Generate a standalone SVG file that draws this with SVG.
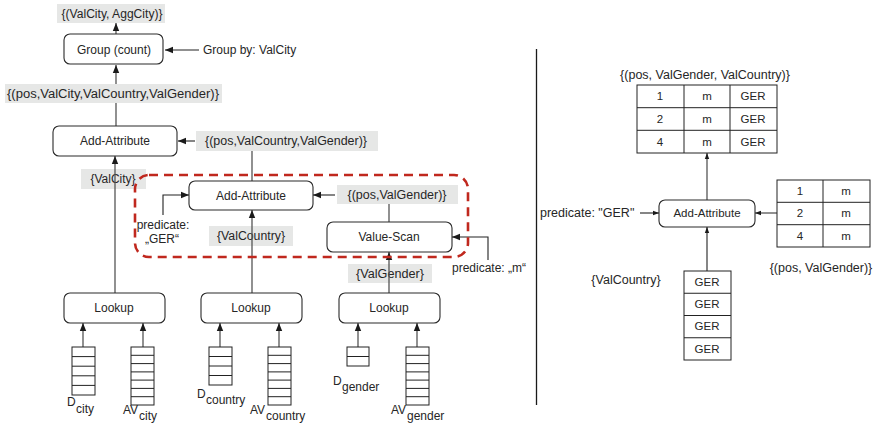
<svg xmlns="http://www.w3.org/2000/svg" width="878" height="425" viewBox="0 0 878 425">
  <defs>
    <marker id="ah" markerWidth="8" markerHeight="8" refX="8" refY="4" orient="auto" markerUnits="userSpaceOnUse">
      <path d="M0,0.8 L8,4 L0,7.2 Z" fill="#1a1a1a"/>
    </marker>
    <marker id="ahs" markerWidth="6" markerHeight="6" refX="6" refY="3" orient="auto" markerUnits="userSpaceOnUse">
      <path d="M0,0.8 L6,3 L0,5.2 Z" fill="#1a1a1a"/>
    </marker>
    <style>
      text { font-family: "Liberation Sans", Arial, sans-serif; fill: #262626; }
      .t { font-size: 12px; text-anchor: middle; }
      .tl { font-size: 12px; }
      .s { font-size: 12.5px; text-anchor: middle; }
      .sl { font-size: 12.5px; }
      .cell { font-size: 11.5px; text-anchor: middle; }
      .node { fill: #fff; stroke: #2a2a2a; stroke-width: 1.1; }
      .lbl { fill: #e6e7e6; }
      .edge { fill: none; stroke: #555; stroke-width: 1.3; }
      .edgek { fill: none; stroke: #222; stroke-width: 1.1; }
      .arr { fill: #fff; stroke: #222; stroke-width: 1; }
      .rows { fill: none; stroke: #222; stroke-width: 1; }
      .tbl { fill: #fff; stroke: #222; stroke-width: 1; }
      .an { font-size: 12px; }
      .ae { font-size: 12px; text-anchor: end; }
    </style>
  </defs>

  <!-- edge labels (shaded) -->
  <g id="labels">
    <rect class="lbl" x="57" y="4" width="108" height="19"/>
    <text class="t" x="112" y="18" textLength="101" lengthAdjust="spacingAndGlyphs">{(ValCity, AggCity)}</text>
    <rect class="lbl" x="5" y="84" width="217" height="19"/>
    <text class="t" x="113" y="98" textLength="212" lengthAdjust="spacingAndGlyphs">{(pos,ValCity,ValCountry,ValGender)}</text>
    <rect class="lbl" x="196" y="131" width="182" height="20"/>
    <text class="t" x="286" y="145" textLength="162" lengthAdjust="spacingAndGlyphs">{(pos,ValCountry,ValGender)}</text>
    <rect class="lbl" x="81" y="169" width="65" height="20"/>
    <text class="t" x="113" y="183">{ValCity}</text>
    <rect class="lbl" x="337" y="185" width="121" height="19"/>
    <text class="t" x="397" y="199" textLength="99" lengthAdjust="spacingAndGlyphs">{(pos,ValGender)}</text>
    <rect class="lbl" x="209" y="226" width="84" height="20"/>
    <text class="t" x="251" y="240" textLength="68" lengthAdjust="spacingAndGlyphs">{ValCountry}</text>
    <rect class="lbl" x="348" y="264" width="84" height="19"/>
    <text class="t" x="390" y="278" textLength="68" lengthAdjust="spacingAndGlyphs">{ValGender}</text>
  </g>

  <!-- connectors -->
  <g id="connectors">
    <line class="edge" x1="116" y1="35" x2="116" y2="23" marker-end="url(#ah)"/>
    <line class="edgek" x1="199" y1="50" x2="165" y2="50" marker-end="url(#ah)"/>
    <line class="edge" x1="116" y1="84" x2="116" y2="65" marker-end="url(#ah)"/>
    <line class="edge" x1="116" y1="103" x2="116" y2="126"/>
    <line class="edgek" x1="195" y1="141" x2="178" y2="141" marker-end="url(#ah)"/>
    <line class="edge" x1="252" y1="151" x2="252" y2="181"/>
    <line class="edge" x1="115" y1="293" x2="115" y2="156" marker-end="url(#ah)"/>
    <polyline class="edgek" points="163,215 163,195 189,195" marker-end="url(#ah)"/>
    <line class="edgek" x1="335" y1="195" x2="313" y2="195" marker-end="url(#ah)"/>
    <line class="edge" x1="389" y1="204" x2="389" y2="222"/>
    <polyline class="edgek" points="488,260 488,237 452,237" marker-end="url(#ah)"/>
    <line class="edge" x1="252" y1="293" x2="252" y2="210" marker-end="url(#ah)"/>
    <line class="edge" x1="389" y1="293" x2="389" y2="252" marker-end="url(#ah)"/>
    <!-- array inputs -->
    <line class="edge" x1="83" y1="347" x2="83" y2="323" marker-end="url(#ah)"/>
    <line class="edge" x1="143" y1="347" x2="143" y2="323" marker-end="url(#ah)"/>
    <line class="edge" x1="220" y1="347" x2="220" y2="323" marker-end="url(#ah)"/>
    <line class="edge" x1="279" y1="347" x2="279" y2="323" marker-end="url(#ah)"/>
    <line class="edge" x1="358" y1="347" x2="358" y2="323" marker-end="url(#ah)"/>
    <line class="edge" x1="417" y1="347" x2="417" y2="323" marker-end="url(#ah)"/>
    <!-- example on the right -->
    <line class="edge" x1="707" y1="200" x2="707" y2="153" marker-end="url(#ahs)"/>
    <line class="edgek" x1="640" y1="213" x2="659" y2="213" marker-end="url(#ahs)"/>
    <line class="edge" x1="777" y1="213" x2="755" y2="213" marker-end="url(#ahs)"/>
    <line class="edgek" x1="707" y1="271" x2="707" y2="227" marker-end="url(#ahs)"/>
  </g>

  <!-- highlighted subplan -->
  <rect id="subplan" x="135" y="175" width="333" height="82" rx="14" fill="none" stroke="#c0281e" stroke-width="2.6" stroke-dasharray="9,6"/>

  <!-- operators -->
  <g id="group-count">
    <rect class="node" x="64" y="34" width="99" height="30" rx="6"/>
    <text class="t" x="114" y="54">Group (count)</text>
  </g>
  <text id="group-by" class="tl" x="203" y="54">Group by: ValCity</text>
  <g id="add-attr-1">
    <rect class="node" x="53" y="126" width="124" height="30" rx="6"/>
    <text class="t" x="115" y="145">Add-Attribute</text>
  </g>
  <g id="add-attr-2">
    <rect class="node" x="189" y="181" width="124" height="29" rx="6"/>
    <text class="t" x="251" y="200">Add-Attribute</text>
  </g>
  <g id="pred-ger">
    <text class="t" x="163" y="229">predicate:</text>
    <text class="t" x="162" y="243">„GER“</text>
  </g>
  <g id="value-scan">
    <rect class="node" x="327" y="222" width="125" height="30" rx="6"/>
    <text class="t" x="389" y="241">Value-Scan</text>
  </g>
  <text id="pred-m" class="tl" x="452" y="272">predicate: „m“</text>
  <g id="lookup-city">
    <rect class="node" x="64" y="293" width="101" height="30" rx="6"/>
    <text class="t" x="114" y="312">Lookup</text>
  </g>
  <g id="lookup-country">
    <rect class="node" x="201" y="293" width="101" height="30" rx="6"/>
    <text class="t" x="251" y="312">Lookup</text>
  </g>
  <g id="lookup-gender">
    <rect class="node" x="339" y="293" width="101" height="30" rx="6"/>
    <text class="t" x="389" y="312">Lookup</text>
  </g>

  <!-- column arrays -->
  <g id="d-city">
    <rect class="arr" x="72" y="347" width="23" height="48"/>
    <path class="rows" d="M72,356.6H95M72,366.2H95M72,375.8H95M72,385.4H95"/>
    <text class="an" x="67" y="406">D</text>
    <text class="an" x="76" y="413">city</text>
  </g>
  <g id="av-city">
    <rect class="arr" x="131" y="347" width="23" height="58"/>
    <path class="rows" d="M131,355.3H154M131,363.6H154M131,371.9H154M131,380.1H154M131,388.4H154M131,396.7H154"/>
    <text class="ae" x="138" y="414">AV</text>
    <text class="an" x="139" y="420">city</text>
  </g>
  <g id="d-country">
    <rect class="arr" x="209" y="347" width="23" height="38"/>
    <path class="rows" d="M209,356.5H232M209,366H232M209,375.5H232"/>
    <text class="an" x="197" y="398">D</text>
    <text class="an" x="206" y="404">country</text>
  </g>
  <g id="av-country">
    <rect class="arr" x="268" y="347" width="23" height="58"/>
    <path class="rows" d="M268,355.3H291M268,363.6H291M268,371.9H291M268,380.1H291M268,388.4H291M268,396.7H291"/>
    <text class="ae" x="265" y="414">AV</text>
    <text class="an" x="266" y="420">country</text>
  </g>
  <g id="d-gender">
    <rect class="arr" x="347" y="347" width="22" height="19"/>
    <path class="rows" d="M347,356.5H369"/>
    <text class="an" x="333" y="385">D</text>
    <text class="an" x="342" y="391">gender</text>
  </g>
  <g id="av-gender">
    <rect class="arr" x="406" y="347" width="23" height="58"/>
    <path class="rows" d="M406,355.3H429M406,363.6H429M406,371.9H429M406,380.1H429M406,388.4H429M406,396.7H429"/>
    <text class="ae" x="406" y="414">AV</text>
    <text class="an" x="407" y="420">gender</text>
  </g>

  <!-- divider -->
  <line x1="536.5" y1="49" x2="536.5" y2="405" stroke="#1a1a1a" stroke-width="1.3"/>

  <!-- worked example -->
  <g id="result-table">
    <text class="s" x="705" y="79">{(pos, ValGender, ValCountry)}</text>
    <rect class="tbl" x="637" y="85" width="140" height="68"/>
    <path d="M684,85V153M730,85V153M637,107.7H777M637,130.3H777" stroke="#222" stroke-width="1" fill="none"/>
    <text class="cell" x="660" y="100">1</text>
    <text class="cell" x="707" y="100">m</text>
    <text class="cell" x="753" y="100">GER</text>
    <text class="cell" x="660" y="123">2</text>
    <text class="cell" x="707" y="123">m</text>
    <text class="cell" x="753" y="123">GER</text>
    <text class="cell" x="660" y="146">4</text>
    <text class="cell" x="707" y="146">m</text>
    <text class="cell" x="753" y="146">GER</text>
  </g>
  <g id="add-attr-example">
    <rect class="node" x="659" y="200" width="96" height="27" rx="6"/>
    <text class="cell" x="707" y="217">Add-Attribute</text>
  </g>
  <text id="pred-ger-example" class="sl" x="540" y="217">predicate: "GER"</text>
  <g id="gender-table">
    <rect class="tbl" x="777" y="180" width="93" height="67"/>
    <path d="M823,180V247M777,202.3H870M777,224.7H870" stroke="#222" stroke-width="1" fill="none"/>
    <text class="cell" x="800" y="195">1</text>
    <text class="cell" x="846" y="195">m</text>
    <text class="cell" x="800" y="217">2</text>
    <text class="cell" x="846" y="217">m</text>
    <text class="cell" x="800" y="240">4</text>
    <text class="cell" x="846" y="240">m</text>
    <text class="s" x="821" y="272">{(pos, ValGender)}</text>
  </g>
  <g id="country-column">
    <text class="s" x="626" y="284">{ValCountry}</text>
    <rect class="tbl" x="684" y="271" width="47" height="89"/>
    <path d="M684,293.25H731M684,315.5H731M684,337.75H731" stroke="#222" stroke-width="1" fill="none"/>
    <text class="cell" x="707" y="286">GER</text>
    <text class="cell" x="707" y="308">GER</text>
    <text class="cell" x="707" y="330">GER</text>
    <text class="cell" x="707" y="353">GER</text>
  </g>
</svg>
